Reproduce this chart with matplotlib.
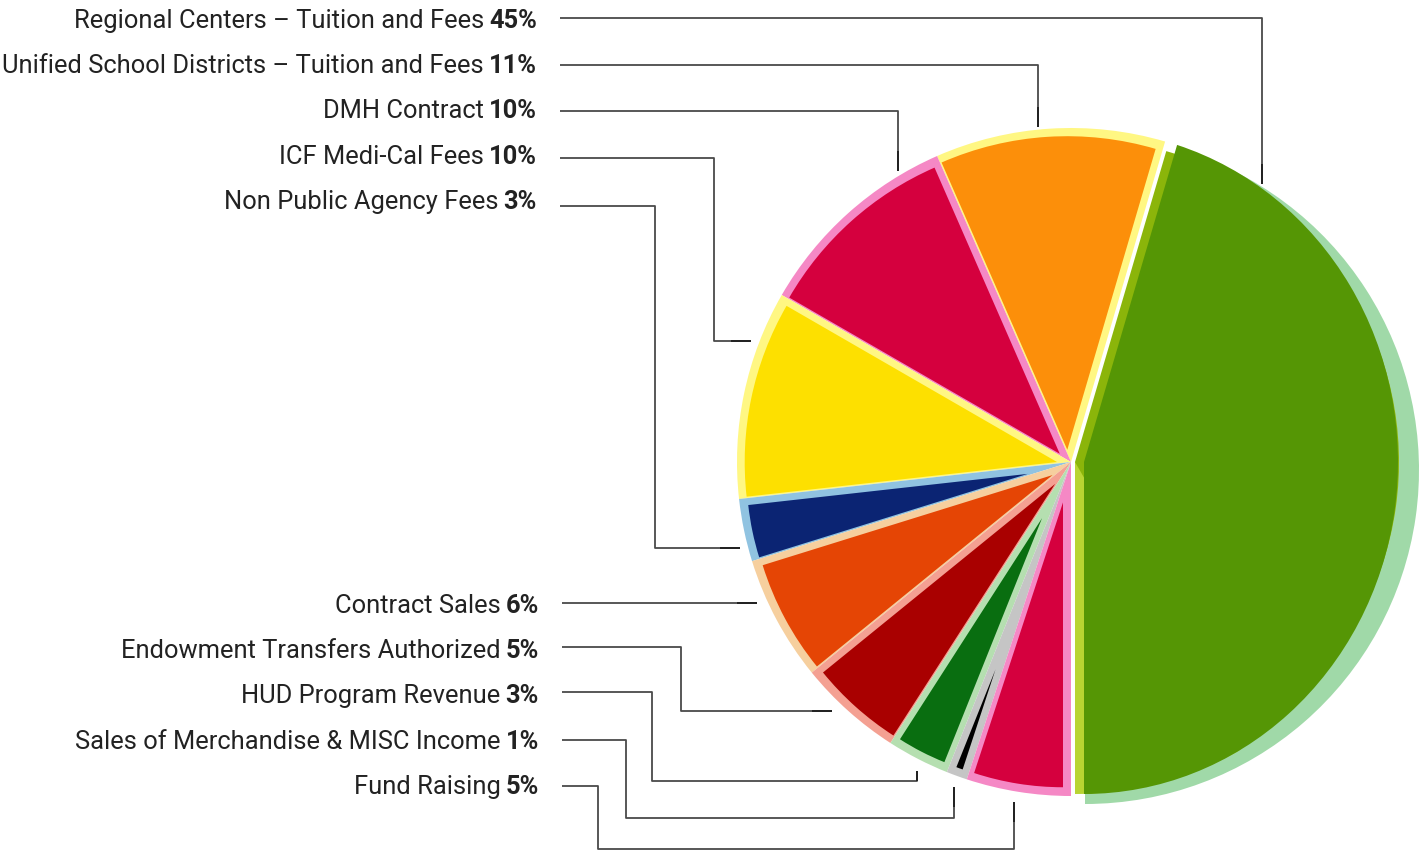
import numpy as np
import matplotlib.pyplot as plt
from matplotlib.patches import Wedge
from matplotlib.transforms import Affine2D

# data
labels = ['Regional Centers – Tuition and Fees',
          'Unified School Districts – Tuition and Fees',
          'DMH Contract',
          'ICF Medi-Cal Fees',
          'Non Public Agency Fees',
          'Contract Sales',
          'Endowment Transfers Authorized',
          'HUD Program Revenue',
          'Sales of Merchandise & MISC Income',
          'Fund Raising']
percents = [45, 11, 10, 10, 3, 6, 5, 3, 1, 5]

main_colors = ['#559605', '#fc8f0a', '#d5003e', '#fde000', '#0b2473',
               '#e54505', '#a90000', '#096e10', '#000000', '#d5003e']
edge_colors = ['#a0d9a8', '#fff783', '#f588c5', '#fff783', '#90c3e1',
               '#f6cf9e', '#f4a092', '#b5dfb0', '#c5c5c5', '#f588c5']

# layout (pixels, measured from the top of the picture)
H = 853
cx, cy = 1071, H - 463
R_out, R_in = 334, 326
inset_lo = [0, 7, 7, 7, 7, 7, 7, 6, 7, 5]
inset_hi = [0, 1.5, 1.5, 1.5, 1.5, 1.5, 1.5, 6, 7, 8]

routes = [
    [(560, 19), (1262, 19), (1262, 185)],
    [(560, 66), (1038, 66), (1038, 128)],
    [(560, 112), (898, 112), (898, 172)],
    [(560, 159), (714, 159), (714, 342), (751, 342)],
    [(560, 207), (655, 207), (655, 549), (740, 549)],
    [(562, 604), (757, 604)],
    [(562, 648), (681, 648), (681, 712), (832, 712)],
    [(562, 693), (652, 693), (652, 782), (917, 782), (917, 772)],
    [(562, 741), (626, 741), (626, 819), (954, 819), (954, 788)],
    [(562, 787), (598, 787), (598, 850), (1014, 850), (1014, 803)],
]
text_right = [537, 537, 537, 537, 537, 539, 539, 539, 539, 539]
text_base = [28, 73, 118, 164, 209, 613, 658, 703, 749, 794]
FS = 18.4

fig = plt.figure(figsize=(14.21, 8.53), dpi=100)
ax = fig.add_axes([0, 0, 1, 1])
ax.set_xlim(0, 1421)
ax.set_ylim(0, H)
ax.axis('off')

frac = np.array(percents, dtype=float) / sum(percents)
bounds = -90 + 360 * np.concatenate([[0], np.cumsum(frac)])

# big green slice, pulled out a little, drawn in layers
a2 = bounds[1]
ax.add_patch(Wedge((1085, H - 471), R_out, -90, a2, fc=edge_colors[0], ec='none'))
ax.add_patch(Wedge((1075, H - 463), 324, -90, a2, fc='#8bb50a', ec='none'))
ax.add_patch(Wedge((1075, H - 463), 332, -90, -60, fc='#b8d432', ec='none'))
phi2 = np.degrees(np.arctan2(np.sin(np.radians(a2)) / 332, np.cos(np.radians(a2)) / 314))
ell = Wedge((0, 0), 1, -90, phi2, fc=main_colors[0], ec='none')
ell.set_transform(Affine2D().scale(314, 332).translate(1084, H - 463) + ax.transData)
ax.add_patch(ell)

# the other slices: light wedge below, inset colour wedge on top
for i in range(1, len(percents)):
    t1, t2 = bounds[i], bounds[i + 1]
    ax.add_patch(Wedge((cx, cy), R_out, t1, t2, fc=edge_colors[i], ec='none'))
    r1, r2 = np.radians(t1), np.radians(t2)
    n1 = [-np.sin(r1), np.cos(r1)]
    n2 = [np.sin(r2), -np.cos(r2)]
    p = np.linalg.solve([n1, n2], [inset_lo[i], inset_hi[i]])
    rm = np.radians((t1 + t2) / 2)
    r_main = R_in - (p[0] * np.cos(rm) + p[1] * np.sin(rm))
    ax.add_patch(Wedge((cx + p[0], cy + p[1]), r_main, t1, t2,
                       fc=main_colors[i], ec='none'))

# leader lines
for pts in routes:
    xs = [q[0] for q in pts]
    ys = [H - q[1] for q in pts]
    ax.plot(xs, ys, color='#4a4a4a', lw=1.3, solid_capstyle='butt')
    (x0, y0), (x1, y1) = pts[-2], pts[-1]
    d = np.hypot(x1 - x0, y1 - y0)
    k = min(1, 20 / d)
    ax.plot([x1 - (x1 - x0) * k, x1], [H - (y1 - (y1 - y0) * k), H - y1],
            color='#222222', lw=1.4, solid_capstyle='butt')

# labels with bold percentages
rend = fig.canvas.get_renderer()
for i in range(len(labels)):
    y = H - text_base[i]
    pt = ax.text(text_right[i], y, f'{percents[i]}%', ha='right', va='baseline',
                 fontsize=FS, family='Roboto', weight='bold', color='#222222')
    w = pt.get_window_extent(renderer=rend).width
    ax.text(text_right[i] - w - 5, y, labels[i], ha='right', va='baseline',
            fontsize=FS, family='Roboto', color='#222222')

fig.savefig('out.png', dpi=100)
